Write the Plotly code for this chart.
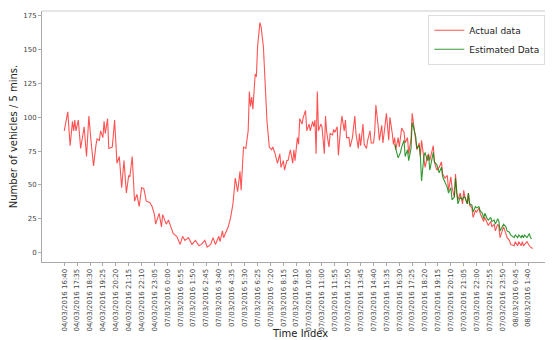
import plotly.graph_objects as go

# ---- data (index into the 5-minute series, vehicles / 5 min) ----
actual_idx = [0, 3, 5, 7, 8, 9, 10, 12, 14, 17, 19, 21, 23, 25, 27, 28, 30, 31, 33, 34, 35, 37, 38, 41,
              43, 45, 47, 49, 51, 53, 55, 56, 58, 60, 62, 64, 66, 68, 70, 73, 75, 77, 78, 81, 83, 84,
              87, 89, 91, 93, 96, 99, 101, 103, 106, 109, 112, 115, 117, 120, 122, 125, 127, 129, 132,
              133, 135, 136, 138, 140, 142, 144, 146, 148, 150, 151, 153, 155, 157, 158, 159, 160, 161,
              163, 164, 165, 167, 168, 170, 171, 172, 173, 175, 177, 178, 180, 182, 184, 185, 187, 188,
              190, 191, 193, 195, 196, 197, 199, 200, 201, 203, 204, 206, 207, 209, 210, 212, 213, 214,
              215, 216, 217, 219, 220, 222, 223, 224, 226, 227, 229, 230, 231, 233, 234, 236, 237, 239,
              240, 241, 243, 244, 246, 248, 249, 251, 252, 253, 255, 256, 258, 259, 261, 262, 264, 265,
              266, 268, 269, 271, 272, 273, 275, 277, 278, 280, 281, 282, 283, 285, 286, 288, 290, 291,
              293, 294, 296, 297, 298, 300, 301, 303, 304, 305, 307, 308, 310, 311, 312, 315, 316, 318,
              320, 322, 323, 325, 327, 328, 330, 331, 333, 334, 335, 336, 338, 340, 341, 342, 344, 345,
              346, 348, 349, 351, 352, 354, 355, 357, 358, 359, 361, 362, 364, 365, 367, 368, 370, 371,
              372, 374, 375, 377, 378, 380, 381, 384, 385, 387, 388, 390, 391, 392, 393, 395, 397, 398, 400]
actual_val = [90, 104, 79, 97, 90, 98, 90, 98, 77, 93, 71, 101, 81, 64, 79, 84, 83, 90, 85, 97, 88, 99, 77, 78,
              98, 66, 71, 48, 68, 44, 57, 56, 71, 38, 43, 34, 48, 47, 38, 37, 34, 28, 21, 29, 19, 28,
              21, 24, 19, 14, 12, 6, 12, 9, 11, 6, 9, 5, 6, 9, 4, 6, 11, 6, 12,
              8, 16, 11, 15, 19, 26, 36, 55, 45, 60, 46, 78, 77, 90, 119, 108, 115, 106,
              132, 130, 152, 170, 167, 152, 130, 114, 98, 78, 76, 78, 73, 66, 73, 63, 68, 61,
              68, 68, 76, 66, 76, 68, 85, 80, 99, 95, 100, 105, 90, 95, 90, 97, 93, 98,
              73, 119, 90, 95, 93, 73, 101, 89, 78, 88, 87, 91, 89, 93, 72, 93, 101, 90,
              98, 85, 85, 78, 85, 101, 88, 77, 88, 79, 95, 80, 77, 83, 90, 81, 81, 89,
              109, 93, 83, 94, 81, 88, 103, 83, 100, 88, 80, 85, 76, 85, 78, 92, 89, 81,
              85, 73, 84, 103, 96, 84, 76, 81, 71, 83, 72, 63, 71, 73, 68, 79, 67, 61,
              63, 67, 58, 55, 57, 46, 56, 48, 41, 58, 44, 39, 44, 36, 46, 41, 36, 44,
              35, 33, 26, 31, 30, 33, 29, 25, 23, 26, 21, 20, 23, 19, 21, 16, 21, 19,
              11, 16, 19, 14, 11, 9, 6, 5, 8, 5, 8, 5, 8, 5, 6, 8, 5, 4, 3]

estimated_idx = [282, 283, 285, 287, 288, 290, 291, 293, 294, 296, 297, 298, 300, 301, 303, 304, 305, 307,
                 308, 310, 311, 312, 315, 316, 318, 320, 322, 323, 325, 327, 328, 330, 331, 333, 334, 335,
                 336, 338, 340, 341, 342, 344, 345, 346, 348, 349, 351, 352, 354, 355, 357, 358, 359, 361,
                 362, 364, 365, 367, 368, 370, 371, 372, 374, 375, 377, 378, 380, 381, 384, 385, 387, 388,
                 390, 391, 392, 393, 395, 397, 398, 399]
estimated_val = [80, 76, 70, 74, 78, 83, 71, 76, 68, 77, 96, 93, 86, 77, 79, 71, 53, 71,
                 74, 68, 72, 61, 74, 67, 65, 59, 63, 56, 52, 48, 44, 48, 39, 41, 55, 46,
                 36, 41, 39, 41, 41, 36, 44, 36, 35, 30, 34, 33, 34, 31, 29, 25, 29, 25,
                 24, 26, 23, 24, 21, 25, 23, 16, 19, 21, 19, 16, 15, 13, 11, 13, 11, 13,
                 11, 13, 11, 13, 11, 14, 11, 10]

tick_idx = [i * 11 for i in range(37)]
tick_labels = ["04/03/2016 16:40", "04/03/2016 17:35", "04/03/2016 18:30", "04/03/2016 19:25",
               "04/03/2016 20:20", "04/03/2016 21:15", "04/03/2016 22:10", "04/03/2016 23:05",
               "07/03/2016 0:00", "07/03/2016 0:55", "07/03/2016 1:50", "07/03/2016 2:45",
               "07/03/2016 3:40", "07/03/2016 4:35", "07/03/2016 5:30", "07/03/2016 6:25",
               "07/03/2016 7:20", "07/03/2016 8:15", "07/03/2016 9:10", "07/03/2016 10:05",
               "07/03/2016 11:00", "07/03/2016 11:55", "07/03/2016 12:50", "07/03/2016 13:45",
               "07/03/2016 14:40", "07/03/2016 15:35", "07/03/2016 16:30", "07/03/2016 17:25",
               "07/03/2016 18:20", "07/03/2016 19:15", "07/03/2016 20:10", "07/03/2016 21:05",
               "07/03/2016 22:00", "07/03/2016 22:55", "07/03/2016 23:50", "08/03/2016 0:45",
               "08/03/2016 1:40"]
y_ticks = [0, 25, 50, 75, 100, 125, 150, 175]

FONT = "DejaVu Sans"

fig = go.Figure()
fig.add_trace(go.Scatter(x=actual_idx, y=actual_val, mode="lines", name="Actual data",
                         line=dict(color="rgba(255,40,40,0.8)", width=1.1)))
fig.add_trace(go.Scatter(x=estimated_idx, y=estimated_val, mode="lines", name="Estimated Data",
                         line=dict(color="rgba(0,128,0,0.8)", width=1.1)))

# the page has an 8 px body margin, so the figure is laid out 8 px smaller / shifted
fig.update_layout(
    width=545, height=332,
    margin=dict(l=34, r=0, t=3, b=78),
    paper_bgcolor="white", plot_bgcolor="white",
    font=dict(family=FONT, color="#444"),
    showlegend=True,
    legend=dict(x=0.985, y=0.985, xanchor="right", yanchor="top",
                bgcolor="white", bordercolor="#dddddd", borderwidth=1,
                font=dict(size=9, color="#222"), tracegroupgap=0, itemwidth=30),
    xaxis=dict(range=[-19, 417.2], tickmode="array", tickvals=tick_idx, ticktext=tick_labels,
               tickangle=-90, tickfont=dict(size=7, color="#444"), showgrid=False, zeroline=False,
               showline=True, linecolor="#aaaaaa", linewidth=1, ticks="outside", ticklen=3,
               tickcolor="#aaaaaa", automargin=False),
    yaxis=dict(range=[-7, 178.6], tickmode="array", tickvals=y_ticks,
               tickfont=dict(size=7, color="#444"), showgrid=False, zeroline=False,
               showline=True, linecolor="#aaaaaa", linewidth=1, ticks="outside", ticklen=3,
               tickcolor="#aaaaaa", automargin=False,
               title=dict(text="Number of vehicles / 5 mins.", font=dict(size=10, color="#222"),
                          standoff=3)),
    shapes=[dict(type="line", xref="paper", yref="paper", x0=0, x1=1, y0=1, y1=1,
                 line=dict(color="#cccccc", width=1))],
    annotations=[dict(text="Time Index", xref="paper", yref="paper", x=0.505, y=-0.285,
                      xanchor="center", yanchor="middle", showarrow=False,
                      font=dict(size=10, color="#222"))],
)

fig.write_html("out.html")
